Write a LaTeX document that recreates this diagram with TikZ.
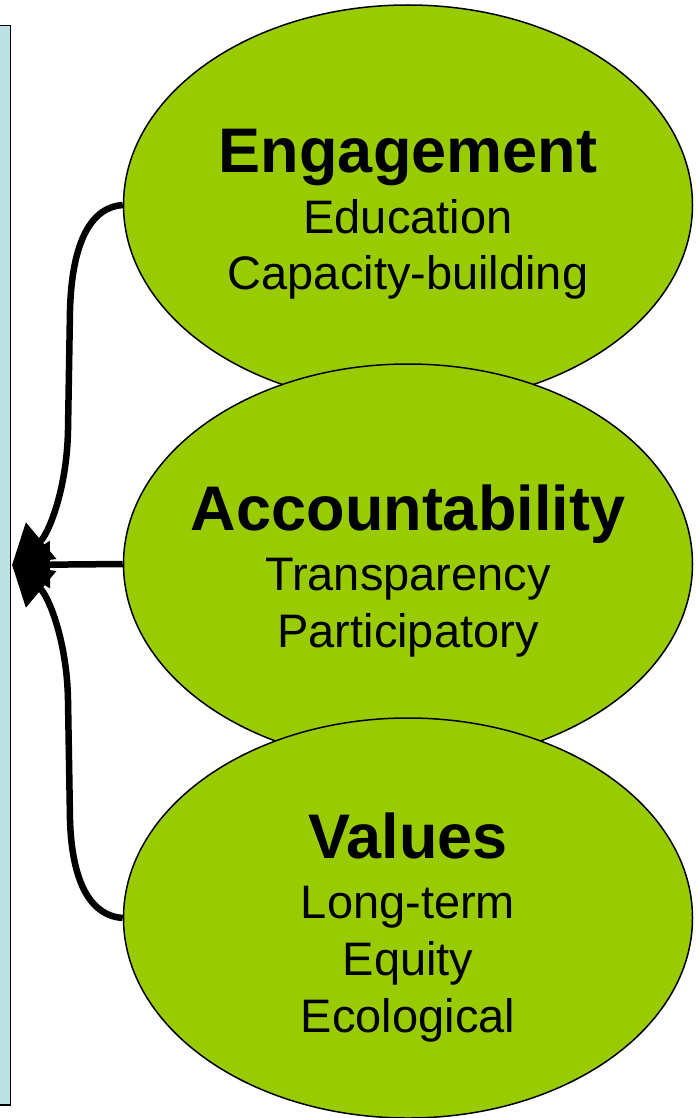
\documentclass[tikz,border=0pt]{standalone}
\usepackage{fontspec}
\setmainfont{Liberation Sans}
\usetikzlibrary{shapes.geometric,arrows.meta}
\definecolor{leafgreen}{RGB}{153,204,0}
\definecolor{paleblue}{RGB}{188,224,228}
\begin{document}
\begin{tikzpicture}[x=1pt,y=-1pt,
  oval/.style={ellipse,draw=black,line width=1.5pt,fill=leafgreen,minimum width=569pt,minimum height=400pt,inner sep=0pt},
  conn/.style={line width=6.5pt,-{Triangle[length=38pt,width=46pt]}},
  title/.style={anchor=base,font=\fontsize{63}{70}\selectfont\bfseries},
  item/.style={anchor=base,font=\fontsize{47}{55}\selectfont}]
\useasboundingbox (0,0) rectangle (697,1118);
\node[draw=black,line width=1.5pt,fill=paleblue,minimum width=20pt,minimum height=1079pt,inner sep=0pt,anchor=north east] (panel) at (11,25) {};
\coordinate (tip) at (12,565);
\node[oval] (eng) at (408,205) {};
\node[oval] (acc) at (408,564) {};
\node[oval] (val) at (408,918) {};
\node[title] (t1) at (408,173) {Engagement};
\node[item] (e1) at (408,233) {Education};
\node[item] (e2) at (408,289) {Capacity-building};
\node[title] (t2) at (408,530) {Accountability};
\node[item] (a1) at (408,590) {Transparency};
\node[item] (a2) at (408,647) {Participatory};
\node[title] (t3) at (408,858) {Values};
\node[item] (v1) at (408,918) {Long-term};
\node[item] (v2) at (408,975) {Equity};
\node[item] (v3) at (408,1032) {Ecological};
\draw[conn] (eng.west) .. controls (92,207) and (72,240) .. (70,310) -- (68,430) .. controls (67,490) and (48,535) .. (tip);
\draw[conn] (acc.west) -- (tip);
\draw[conn] (val.west) .. controls (92,916) and (72,885) .. (70,820) -- (68,700) .. controls (67,640) and (48,595) .. (tip);
\end{tikzpicture}
\end{document}
